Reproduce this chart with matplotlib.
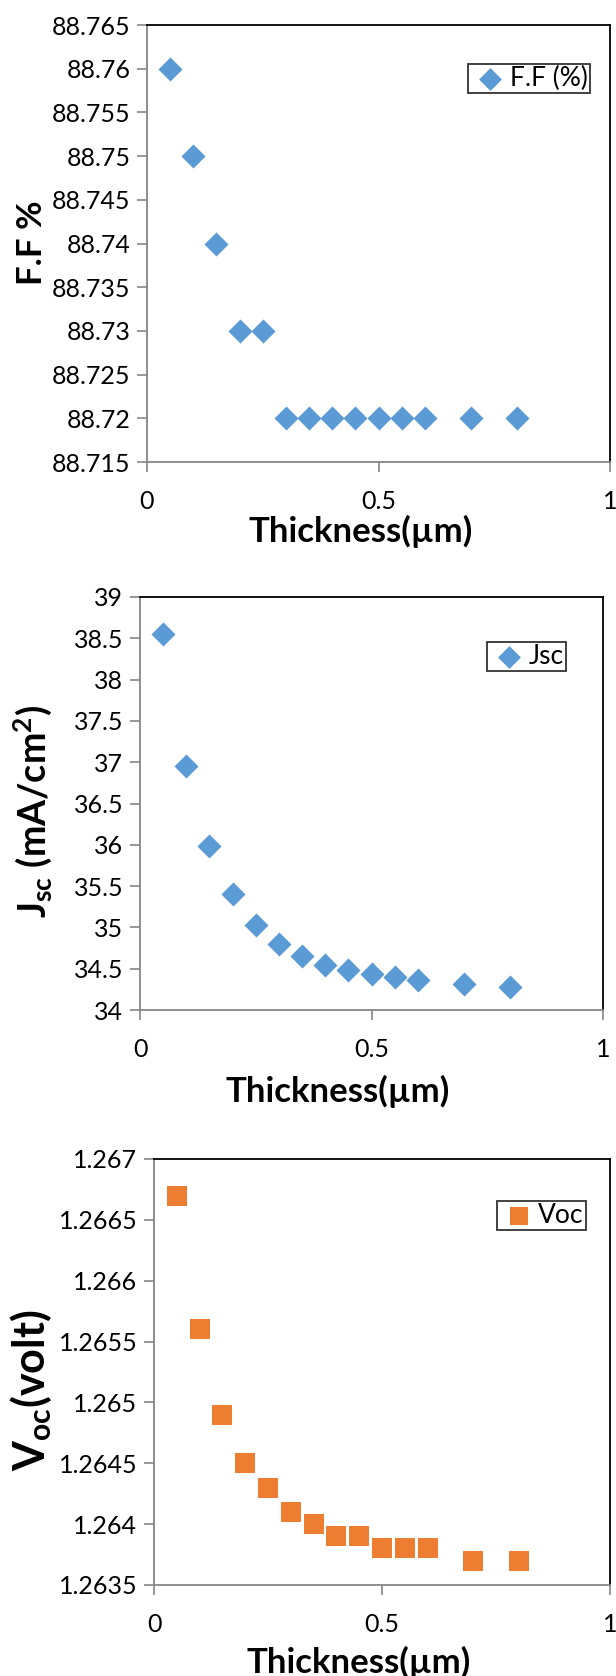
import matplotlib.pyplot as plt

plt.rcParams['font.family'] = ['Lato', 'DejaVu Sans']
plt.rcParams['mathtext.fontset'] = 'custom'
plt.rcParams['mathtext.rm'] = 'Lato'
plt.rcParams['mathtext.bf'] = 'Lato:bold'

thickness = [0.05, 0.1, 0.15, 0.2, 0.25, 0.3, 0.35, 0.4, 0.45, 0.5, 0.55, 0.6, 0.7, 0.8]
ff = [88.76, 88.75, 88.74, 88.73, 88.73, 88.72, 88.72, 88.72, 88.72, 88.72, 88.72, 88.72, 88.72, 88.72]
jsc = [38.55, 36.95, 35.98, 35.40, 35.03, 34.80, 34.65, 34.55, 34.48, 34.43, 34.40, 34.36, 34.32, 34.28]
voc = [1.2667, 1.2656, 1.2649, 1.2645, 1.2643, 1.2641, 1.2640, 1.2639, 1.2639, 1.2638, 1.2638, 1.2638, 1.2637, 1.2637]

ff_ticks = [88.715, 88.72, 88.725, 88.73, 88.735, 88.74, 88.745, 88.75, 88.755, 88.76, 88.765]
ff_labels = ['88.715', '88.72', '88.725', '88.73', '88.735', '88.74',
             '88.745', '88.75', '88.755', '88.76', '88.765']
jsc_ticks = [34, 34.5, 35, 35.5, 36, 36.5, 37, 37.5, 38, 38.5, 39]
jsc_labels = ['34', '34.5', '35', '35.5', '36', '36.5', '37', '37.5', '38', '38.5', '39']
voc_ticks = [1.2635, 1.264, 1.2645, 1.265, 1.2655, 1.266, 1.2665, 1.267]
voc_labels = ['1.2635', '1.264', '1.2645', '1.265', '1.2655', '1.266', '1.2665', '1.267']
x_ticks = [0, 0.5, 1]
x_labels = ['0', '0.5', '1']

W, H = 616, 1676
BLUE = '#5B9BD5'
ORANGE = '#ED7D31'
GREY = '#868686'

fig = plt.figure(figsize=(W / 100, H / 100), dpi=100)


def panel(left, right, top, bottom, xlab_at, ylab_at, xlabel, ylabel, ysize=25):
    w, h = right - left, bottom - top
    ax = fig.add_axes([left / W, 1 - bottom / H, w / W, h / H])
    for s in ('top', 'right'):
        ax.spines[s].set_color('black')
        ax.spines[s].set_linewidth(1.3)
    for s in ('left', 'bottom'):
        ax.spines[s].set_color(GREY)
        ax.spines[s].set_linewidth(1.3)
    ax.tick_params(direction='out', length=7, width=1.2, color=GREY,
                   labelsize=18, pad=5)
    ax.tick_params(axis='x', pad=13)
    ax.set_xlim(0, 1)
    ax.set_xticks(x_ticks)
    ax.set_xticklabels(x_labels)

    # axis titles placed by pixel centre
    ax.set_xlabel(xlabel, fontsize=25, fontweight='bold')
    ax.xaxis.set_label_coords((xlab_at[0] - left) / w, -(xlab_at[1] - bottom) / h)
    ax.xaxis.label.set_verticalalignment('center')
    ax.set_ylabel(ylabel, fontsize=ysize, fontweight='bold')
    ax.yaxis.set_label_coords(-(left - ylab_at[0]) / w, (bottom - ylab_at[1]) / h)
    ax.yaxis.label.set_verticalalignment('center')
    return ax


def legend(ax, x, y, scale):
    leg = ax.legend(loc='upper right', bbox_to_anchor=(x / W, 1 - y / H),
                    bbox_transform=fig.transFigure, fontsize=19, frameon=True,
                    fancybox=False, handletextpad=0.0, handlelength=1.5,
                    borderpad=0.08, borderaxespad=0, markerscale=scale)
    leg.get_frame().set_edgecolor('black')
    leg.get_frame().set_linewidth(1.3)


# fill factor
ax1 = panel(147, 610, 25, 462, (361, 531), (32, 243), 'Thickness(µm)', 'F.F %')
ax1.scatter(thickness, ff, marker='D', s=150, color=BLUE, linewidths=0,
            label='F.F (%)', zorder=3)
ax1.set_ylim(88.715, 88.765)
ax1.set_yticks(ff_ticks)
ax1.set_yticklabels(ff_labels)
legend(ax1, 590, 64, 0.95)

# short-circuit current
ax2 = panel(140, 603, 597, 1010, (338, 1091), (33, 812), 'Thickness(µm)',
            r'$\mathbf{J_{sc}}$ (mA/cm$\mathbf{^{2}}$)', ysize=27)
ax2.scatter(thickness, jsc, marker='D', s=150, color=BLUE, linewidths=0,
            label='Jsc', zorder=3)
ax2.set_ylim(34, 39)
ax2.set_yticks(jsc_ticks)
ax2.set_yticklabels(jsc_labels)
legend(ax2, 566, 642, 0.95)

# open-circuit voltage
ax3 = panel(154, 610, 1159, 1585, (359, 1662), (31, 1390), 'Thickness(µm)',
            r'$\mathbf{V_{oc}}$(volt)', ysize=31)
ax3.scatter(thickness, voc, marker='s', s=210, color=ORANGE, linewidths=0,
            label='Voc', zorder=3)
ax3.set_ylim(1.2635, 1.267)
ax3.set_yticks(voc_ticks)
ax3.set_yticklabels(voc_labels)
legend(ax3, 586, 1201, 0.85)

fig.savefig('out.png', dpi=100, facecolor='white')
